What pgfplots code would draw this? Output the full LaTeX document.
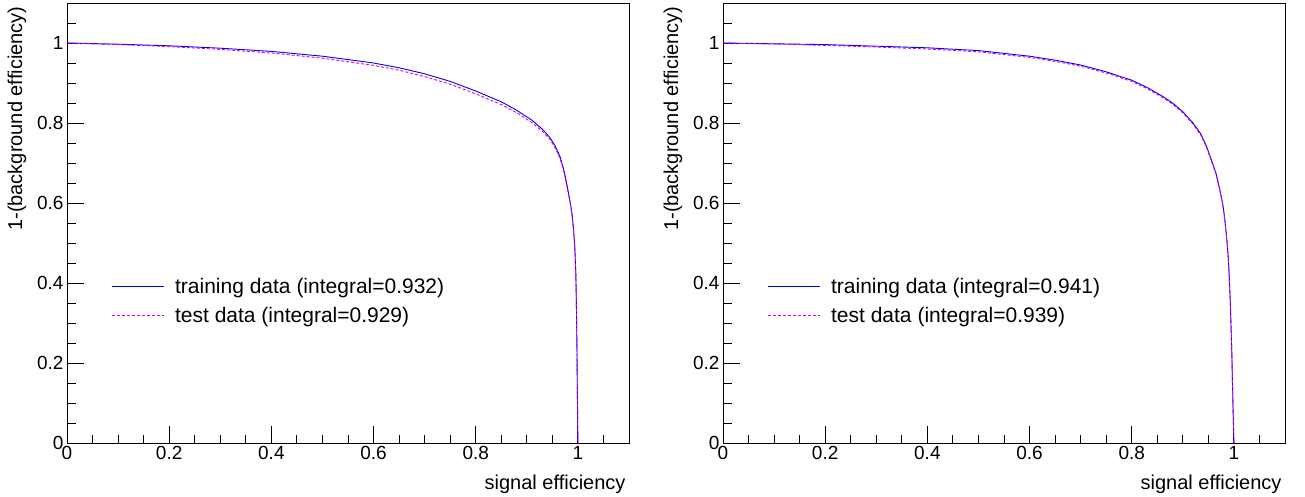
\documentclass[border=0pt]{standalone}
\usepackage{fontspec}
\setmainfont{Liberation Sans}
\usepackage{pgfplots}
\pgfplotsset{compat=1.18}
\definecolor{trainc}{RGB}{0,0,255}
\definecolor{testc}{RGB}{220,0,220}
\pgfplotsset{rocstyle/.style={
  scale only axis, width=562pt, height=440pt,
  xmin=0, xmax=1.1, ymin=0, ymax=1.1,
  axis line style={line width=0.9pt},
  tick pos=left, tick align=inside,
  xtick={0,0.2,0.4,0.6,0.8,1}, ytick={0,0.2,0.4,0.6,0.8,1},
  minor xtick={0.05,0.1,0.15,0.25,0.3,0.35,0.45,0.5,0.55,0.65,0.7,0.75,0.85,0.9,0.95,1.05},
  minor ytick={0.05,0.1,0.15,0.25,0.3,0.35,0.45,0.5,0.55,0.65,0.7,0.75,0.85,0.9,0.95,1.05},
  major tick length=17pt, minor tick length=8.5pt,
  every tick/.style={black, line width=0.9pt},
  ticklabel style={font=\fontsize{19}{21}\selectfont},
  /pgf/number format/assume math mode=true,
  xlabel={signal efficiency}, ylabel={1-(background efficiency)},
  label style={font=\fontsize{20}{22}\selectfont},
  xlabel style={at={(axis description cs:1,0)}, anchor=base east, yshift=-46pt},
  ylabel style={at={(axis description cs:-0.089,1)}, anchor=east},
  legend style={at={(axis description cs:0.073,0.3227)}, anchor=west, draw=none, fill=none,
    font=\fontsize{21}{24}\selectfont, row sep=12pt, nodes={inner sep=0pt},
    /tikz/every odd column/.append style={column sep=11pt}},
  legend cell align=left,
  legend image code/.code={\draw[#1] (0pt,0pt) -- (52pt,0pt);},
  trainline/.style={color=trainc, line width=0.9pt},
  testline/.style={color=testc, line width=0.9pt, dash pattern=on 3pt off 2pt},
}}
\begin{document}
\begin{tikzpicture}
\useasboundingbox (0,0) rectangle (1305pt,496pt);
\begin{axis}[rocstyle, at={(67pt,53pt)}, anchor=south west]
\addplot[trainline] coordinates {(0,1)(0.05,0.9985)(0.1,0.997)(0.2,0.993)(0.3,0.987)(0.4,0.979)(0.5,0.967)(0.6,0.950)(0.65,0.938)(0.7,0.923)(0.75,0.904)(0.8,0.880)(0.85,0.853)(0.88,0.832)(0.91,0.807)(0.93,0.785)(0.945,0.764)(0.955,0.744)(0.965,0.716)(0.972,0.685)(0.978,0.649)(0.983,0.615)(0.988,0.578)(0.991,0.54)(0.994,0.49)(0.996,0.42)(0.997,0.35)(0.998,0.25)(0.999,0.12)(1,0)};
\addlegendentry{training data (integral=0.932)}
\addplot[testline] coordinates {(0,1)(0.05,0.998)(0.1,0.996)(0.2,0.991)(0.3,0.984)(0.4,0.975)(0.5,0.962)(0.6,0.944)(0.65,0.932)(0.7,0.916)(0.75,0.897)(0.8,0.873)(0.85,0.846)(0.88,0.826)(0.91,0.801)(0.93,0.780)(0.945,0.759)(0.955,0.739)(0.965,0.711)(0.972,0.681)(0.978,0.645)(0.983,0.611)(0.988,0.574)(0.991,0.536)(0.994,0.486)(0.996,0.416)(0.997,0.346)(0.998,0.246)(0.999,0.118)(1,0)};
\addlegendentry{test data (integral=0.929)}
\end{axis}
\begin{axis}[rocstyle, at={(723pt,53pt)}, anchor=south west]
\addplot[trainline] coordinates {(0,1)(0.05,0.999)(0.1,0.998)(0.2,0.996)(0.3,0.992)(0.4,0.988)(0.5,0.981)(0.6,0.967)(0.65,0.957)(0.7,0.945)(0.75,0.928)(0.8,0.907)(0.83,0.889)(0.86,0.867)(0.88,0.850)(0.9,0.828)(0.92,0.800)(0.935,0.773)(0.946,0.743)(0.955,0.711)(0.965,0.674)(0.972,0.636)(0.978,0.599)(0.982,0.561)(0.985,0.524)(0.988,0.48)(0.990,0.44)(0.993,0.35)(0.996,0.22)(0.998,0.1)(1,0)};
\addlegendentry{training data (integral=0.941)}
\addplot[testline] coordinates {(0,1)(0.05,0.9985)(0.1,0.9975)(0.2,0.994)(0.3,0.990)(0.4,0.985)(0.5,0.978)(0.6,0.964)(0.65,0.954)(0.7,0.942)(0.75,0.925)(0.8,0.904)(0.83,0.886)(0.86,0.864)(0.88,0.847)(0.9,0.825)(0.92,0.797)(0.935,0.770)(0.946,0.740)(0.955,0.708)(0.965,0.672)(0.972,0.634)(0.978,0.597)(0.982,0.559)(0.985,0.522)(0.988,0.478)(0.990,0.438)(0.993,0.348)(0.996,0.218)(0.998,0.098)(1,0)};
\addlegendentry{test data (integral=0.939)}
\end{axis}
\end{tikzpicture}
\end{document}
